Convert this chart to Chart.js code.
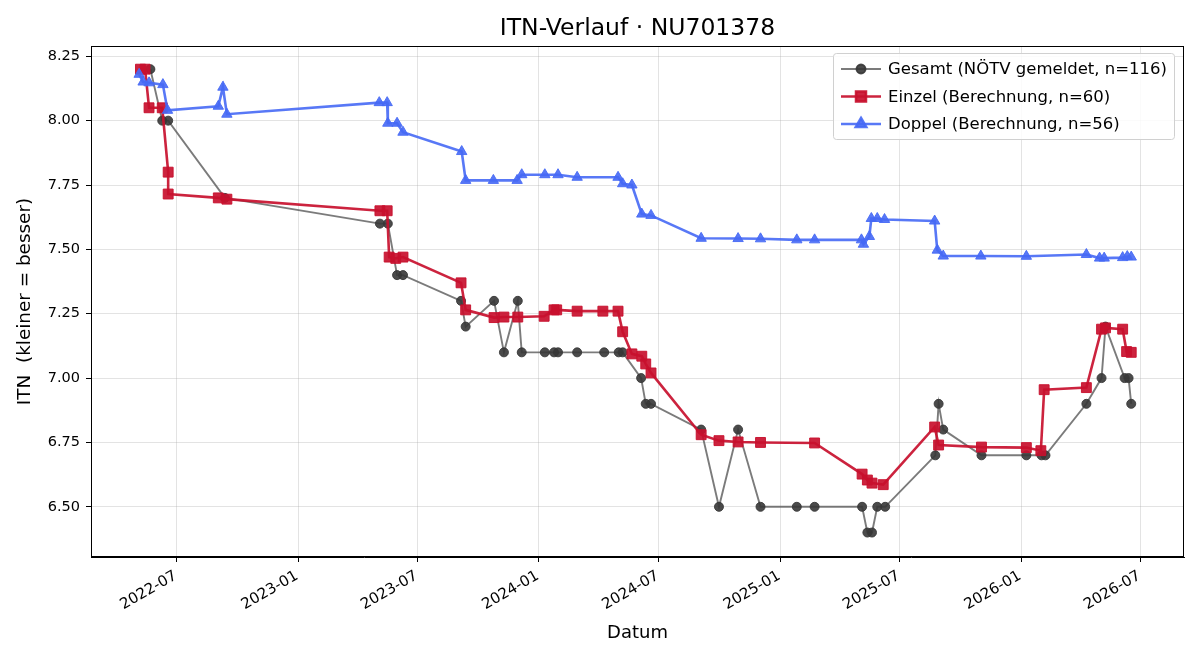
<!DOCTYPE html>
<html>
<head>
<meta charset="utf-8">
<script src="https://cdn.jsdelivr.net/npm/chart.js@4"></script>
<style>
  html, body { margin: 0; padding: 0; background: #fff; }
  #wrap { width: 1200px; height: 660px; }
</style>
</head>
<body>
<div id="wrap"><canvas id="itnChart" width="1200" height="660"></canvas></div>
<script>
// ========================================
// DATA
// ========================================
const gesamtDates = [
  '2022-05-22', '2022-06-09', '2022-06-18', '2022-09-12', '2023-05-05', '2023-05-17',
  '2023-05-31', '2023-06-09', '2023-09-05', '2023-09-12', '2023-10-25', '2023-11-09',
  '2023-11-30', '2023-12-06', '2024-01-10', '2024-01-24', '2024-01-30', '2024-02-28',
  '2024-04-09', '2024-05-01', '2024-05-07', '2024-06-04', '2024-06-11', '2024-06-19',
  '2024-09-03', '2024-09-30', '2024-10-29', '2024-12-02', '2025-01-26', '2025-02-22',
  '2025-05-05', '2025-05-13', '2025-05-20', '2025-05-28', '2025-06-09', '2025-08-24',
  '2025-08-29', '2025-09-05', '2025-11-02', '2026-01-09', '2026-02-01', '2026-02-07',
  '2026-04-10', '2026-05-03', '2026-05-09', '2026-06-07', '2026-06-13', '2026-06-17'
];
const gesamtValues = [
  8.2, 8.0, 8.0, 7.7, 7.6, 7.6,
  7.4, 7.4, 7.3, 7.2, 7.3, 7.1,
  7.3, 7.1, 7.1, 7.1, 7.1, 7.1,
  7.1, 7.1, 7.1, 7.0, 6.9, 6.9,
  6.8, 6.5, 6.8, 6.5, 6.5, 6.5,
  6.5, 6.4, 6.4, 6.5, 6.5, 6.7,
  6.9, 6.8, 6.7, 6.7, 6.7, 6.7,
  6.9, 7.0, 7.2, 7.0, 7.0, 6.9
];

const einzelDates = [
  '2022-05-07', '2022-05-14', '2022-05-20', '2022-06-09', '2022-06-18', '2022-06-18',
  '2022-09-02', '2022-09-15', '2023-05-05', '2023-05-16', '2023-05-19', '2023-05-29',
  '2023-06-09', '2023-09-05', '2023-09-12', '2023-10-25', '2023-11-09', '2023-11-30',
  '2024-01-09', '2024-01-24', '2024-01-28', '2024-02-28', '2024-04-07', '2024-04-30',
  '2024-05-07', '2024-05-21', '2024-06-05', '2024-06-11', '2024-06-19', '2024-09-03',
  '2024-09-30', '2024-10-29', '2024-12-02', '2025-02-22', '2025-05-05', '2025-05-13',
  '2025-05-20', '2025-06-06', '2025-08-23', '2025-08-29', '2025-11-02', '2026-01-09',
  '2026-01-31', '2026-02-05', '2026-04-10', '2026-05-03', '2026-05-09', '2026-06-04',
  '2026-06-10', '2026-06-17'
];
const einzelValues = [
  8.20, 8.20, 8.05, 8.05, 7.80, 7.715,
  7.70, 7.695, 7.65, 7.65, 7.47, 7.465,
  7.47, 7.37, 7.265, 7.235, 7.237, 7.237,
  7.24, 7.265, 7.265, 7.26, 7.26, 7.26,
  7.18, 7.094, 7.085, 7.055, 7.02, 6.78,
  6.757, 6.752, 6.75, 6.748, 6.627, 6.604,
  6.592, 6.586, 6.81, 6.74, 6.732, 6.73,
  6.718, 6.955, 6.963, 7.19, 7.195, 7.19,
  7.103, 7.10
];

const doppelDates = [
  '2022-05-05', '2022-05-11', '2022-05-20', '2022-06-10', '2022-06-17', '2022-09-02',
  '2022-09-09', '2022-09-15', '2023-05-04', '2023-05-16', '2023-05-17', '2023-05-31',
  '2023-06-09', '2023-09-06', '2023-09-12', '2023-10-24', '2023-11-29', '2023-12-06',
  '2024-01-10', '2024-01-30', '2024-02-28', '2024-04-30', '2024-05-07', '2024-05-21',
  '2024-06-05', '2024-06-19', '2024-09-03', '2024-10-29', '2024-12-02', '2025-01-26',
  '2025-02-22', '2025-05-04', '2025-05-07', '2025-05-16', '2025-05-19', '2025-05-28',
  '2025-06-08', '2025-08-23', '2025-08-27', '2025-09-05', '2025-11-01', '2026-01-09',
  '2026-04-10', '2026-04-30', '2026-05-07', '2026-06-04', '2026-06-11', '2026-06-17'
];
const doppelValues = [
  8.18, 8.15, 8.147, 8.14, 8.04, 8.056,
  8.13, 8.025, 8.07, 8.07, 7.99, 7.99,
  7.955, 7.88, 7.768, 7.768, 7.768, 7.79,
  7.79, 7.79, 7.78, 7.78, 7.755, 7.75,
  7.637, 7.632, 7.543, 7.542, 7.541, 7.537,
  7.537, 7.537, 7.52, 7.55, 7.62, 7.62,
  7.616, 7.61, 7.497, 7.474, 7.474, 7.473,
  7.48, 7.466, 7.466, 7.468, 7.472, 7.47
];

const xTickLabels = ['2022-07', '2023-01', '2023-07', '2024-01', '2024-07', '2025-01', '2025-07', '2026-01', '2026-07'];
const yTickValues = [6.50, 6.75, 7.00, 7.25, 7.50, 7.75, 8.00, 8.25];
const xRange = ['2022-02-21', '2026-09-05'];
const yRange = [6.305, 8.29];

// ========================================
// HELPERS
// ========================================
const toMs = (s) => {
  const [y, m, d] = s.split('-').map(Number);
  return Date.UTC(y, m - 1, d || 1);
};
const toPoints = (dates, values) => dates.map((d, i) => ({ x: toMs(d), y: values[i] }));

const FONT = "'DejaVu Sans', sans-serif";

// cadre complet autour de la zone du graphe
const frame = {
  id: 'frame',
  afterDraw(chart) {
    const { ctx, chartArea: a } = chart;
    ctx.save();
    ctx.strokeStyle = '#000';
    ctx.lineWidth = 1;
    ctx.strokeRect(Math.round(a.left) + 0.5, Math.round(a.top) + 0.5,
      Math.round(a.right - a.left) - 1, Math.round(a.bottom - a.top) - 1);
    ctx.restore();
  }
};

// légende style matplotlib (ligne + marqueur) en haut à droite
const legendBox = {
  id: 'legendBox',
  afterDraw(chart) {
    const { ctx, chartArea: a } = chart;
    const w = 341, h = 86;
    const x0 = a.right - 10 - w, y0 = a.top + 7;
    ctx.save();
    ctx.fillStyle = 'rgba(255,255,255,0.85)';
    ctx.strokeStyle = '#d0d0d0';
    ctx.lineWidth = 1;
    ctx.beginPath();
    ctx.roundRect(x0 + 0.5, y0 + 0.5, w, h, 3);
    ctx.fill();
    ctx.stroke();

    ctx.font = '16.5px ' + FONT;
    ctx.textBaseline = 'middle';
    chart.data.datasets.forEach((ds, i) => {
      const y = y0 + 16 + i * 27.5;
      ctx.strokeStyle = ds.borderColor;
      ctx.lineWidth = ds.borderWidth;
      ctx.beginPath();
      ctx.moveTo(x0 + 8, y);
      ctx.lineTo(x0 + 48, y);
      ctx.stroke();
      ctx.fillStyle = ds.pointBackgroundColor;
      ctx.strokeStyle = ds.pointBorderColor;
      Chart.helpers.drawPoint(ctx, {
        pointStyle: ds.pointStyle, radius: ds.pointRadius, rotation: 0, borderWidth: 1
      }, x0 + 28, y);
      ctx.fillStyle = '#000';
      ctx.fillText(ds.label, x0 + 55, y + 1);
    });
    ctx.restore();
  }
};

// ========================================
// CHART
// ========================================
new Chart(document.getElementById('itnChart'), {
  type: 'line',
  data: {
    datasets: [
      {
        label: 'Gesamt (NÖTV gemeldet, n=116)',
        data: toPoints(gesamtDates, gesamtValues),
        borderColor: 'rgba(90,90,90,0.8)',
        borderWidth: 1.9,
        pointStyle: 'circle',
        pointRadius: 4.5,
        pointBackgroundColor: 'rgba(55,55,55,0.9)',
        pointBorderColor: 'rgba(55,55,55,0.9)',
        pointBorderWidth: 1,
        tension: 0,
        order: 3
      },
      {
        label: 'Einzel (Berechnung, n=60)',
        data: toPoints(einzelDates, einzelValues),
        borderColor: 'rgba(200,16,46,0.92)',
        borderWidth: 2.6,
        pointStyle: 'rect',
        pointRadius: 7,
        pointBackgroundColor: 'rgba(200,16,46,0.92)',
        pointBorderColor: 'rgba(200,16,46,0.92)',
        pointBorderWidth: 1,
        tension: 0,
        order: 2
      },
      {
        label: 'Doppel (Berechnung, n=56)',
        data: toPoints(doppelDates, doppelValues),
        borderColor: 'rgba(70,105,245,0.9)',
        borderWidth: 2.6,
        pointStyle: 'triangle',
        pointRadius: 6,
        pointBackgroundColor: 'rgba(70,105,245,0.9)',
        pointBorderColor: 'rgba(70,105,245,0.9)',
        pointBorderWidth: 1,
        tension: 0,
        order: 1
      }
    ]
  },
  options: {
    responsive: false,
    animation: false,
    layout: { padding: { left: 0, right: 16, top: 0, bottom: 0 } },
    plugins: {
      legend: { display: false },
      tooltip: { enabled: false },
      title: {
        display: true,
        fullSize: false,
        text: 'ITN-Verlauf · NU701378',
        color: '#000',
        font: { family: FONT, size: 23.5, weight: 'normal' },
        padding: { top: 15, bottom: 2.8 }
      }
    },
    scales: {
      x: {
        type: 'linear',
        min: toMs(xRange[0]),
        max: toMs(xRange[1]),
        afterBuildTicks: (scale) => {
          scale.ticks = xTickLabels.map(l => ({ value: toMs(l + '-01') }));
        },
        afterFit: (scale) => { scale.height = 103; },
        ticks: {
          autoSkip: false,
          minRotation: 30,
          maxRotation: 30,
          padding: 5,
          labelOffset: -1,
          color: '#000',
          font: { family: FONT, size: 15 },
          callback: (v) => {
            const i = xTickLabels.findIndex(l => toMs(l + '-01') === v);
            return i >= 0 ? xTickLabels[i] : '';
          }
        },
        grid: { color: 'rgba(176,176,176,0.35)', lineWidth: 1, tickColor: '#000', tickLength: 5 },
        border: { color: '#000' },
        title: {
          display: true,
          text: 'Datum',
          color: '#000',
          font: { family: FONT, size: 18 },
          padding: { bottom: 15.5 }
        }
      },
      y: {
        min: yRange[0],
        max: yRange[1],
        afterBuildTicks: (scale) => {
          scale.ticks = yTickValues.map(v => ({ value: v }));
        },
        afterFit: (scale) => { scale.width = 91; },
        ticks: {
          padding: 6,
          color: '#000',
          font: { family: FONT, size: 14.5 },
          callback: (v) => Number(v).toFixed(2)
        },
        grid: { color: 'rgba(176,176,176,0.35)', lineWidth: 1, tickColor: '#000', tickLength: 5 },
        border: { color: '#000' },
        title: {
          display: true,
          text: 'ITN  (kleiner = besser)',
          color: '#000',
          font: { family: FONT, size: 18.4 },
          padding: { top: 14 }
        }
      }
    }
  },
  plugins: [frame, legendBox]
});
</script>
</body>
</html>
